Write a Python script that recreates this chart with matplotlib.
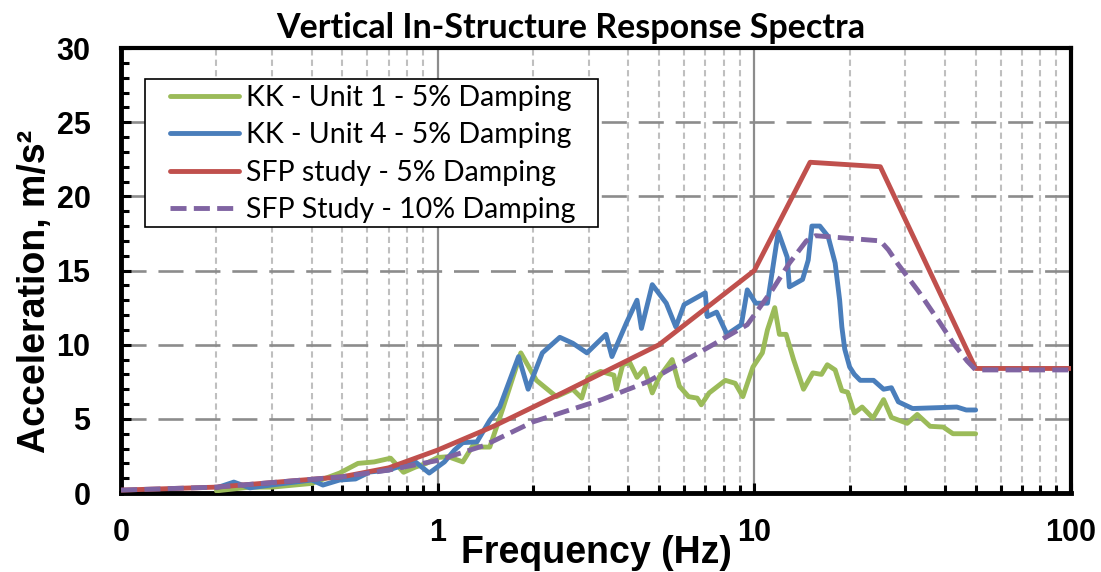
import matplotlib
matplotlib.use('Agg')
import numpy as np
import matplotlib.pyplot as plt
import matplotlib.ticker as mticker
from matplotlib.patches import Rectangle

# ── Spectra: frequency (Hz) and spectral acceleration (m/s²) ─────────

unit1_freq = [0.2, 0.255, 0.3, 0.4, 0.49, 0.56, 0.63, 0.71, 0.78, 0.85, 0.92,
              1.0, 1.08, 1.2, 1.3, 1.36, 1.46, 1.6, 1.83, 2.05, 2.37, 2.67,
              2.85, 2.98, 3.27, 3.6, 3.67, 3.84, 4.04, 4.26, 4.5, 4.76, 5.0,
              5.5, 5.8, 6.2, 6.6, 6.8, 7.2, 8.1, 8.7, 9.2, 9.9, 10.6, 11.0,
              11.6, 12.0, 12.6, 13.3, 14.3, 15.3, 16.3, 17.0, 18.0, 18.9,
              19.7, 20.7, 21.9, 23.7, 25.6, 27.1, 30.4, 32.7, 35.9, 39.5,
              42.4, 50.0]
unit1_acc = [0.15, 0.4, 0.4, 0.65, 1.35, 2.0, 2.1, 2.35, 1.4, 1.75, 2.0,
             2.4, 2.45, 2.1, 3.3, 3.1, 3.1, 5.6, 9.45, 7.6, 6.5, 7.0,
             6.4, 7.8, 8.2, 7.95, 7.0, 8.65, 8.8, 7.8, 8.4, 6.75, 7.8,
             9.0, 7.2, 6.5, 6.4, 5.95, 6.75, 7.6, 7.4, 6.5, 8.5, 9.45, 11.0,
             12.5, 10.7, 10.7, 9.0, 7.0, 8.1, 8.0, 8.65, 8.3, 6.9,
             6.8, 5.4, 5.8, 5.05, 6.3, 5.1, 4.7, 5.3, 4.5, 4.45,
             4.0, 4.0]

unit4_freq = [0.2, 0.227, 0.255, 0.3, 0.4, 0.434, 0.49, 0.55, 0.61, 0.7,
              0.78, 0.85, 0.94, 1.05, 1.13, 1.2, 1.33, 1.46, 1.57, 1.8, 1.93,
              2.14, 2.43, 2.67, 2.96, 3.4, 3.55, 3.95, 4.26, 4.4, 4.76, 5.27,
              5.65, 6.0, 7.0, 7.1, 7.6, 8.2, 9.1, 9.5, 10.1, 11.0, 11.9, 12.7,
              12.9, 14.2, 14.8, 15.2, 16.1, 17.1, 18.0, 18.6, 18.9, 19.3,
              20.0, 20.7, 21.6, 23.8, 25.6, 27.1, 28.5, 31.6, 43.6, 46.7, 50.0]
unit4_acc = [0.35, 0.74, 0.35, 0.55, 0.88, 0.54, 0.88, 0.95, 1.42, 1.55,
             1.89, 2.1, 1.35, 2.1, 2.9, 3.4, 3.45, 4.9, 5.8, 9.2, 7.0,
             9.45, 10.5, 10.1, 9.45, 10.7, 9.2, 11.5, 13.0, 11.1, 14.05, 12.8,
             11.2, 12.7, 13.5, 11.9, 12.2, 10.7, 11.35, 13.7, 12.8, 12.8, 17.6, 15.9,
             13.9, 14.4, 15.7, 18.0, 18.0, 17.3, 15.5, 13.0, 11.2, 9.7,
             8.5, 8.0, 7.6, 7.6, 7.0, 7.1, 6.15, 5.7, 5.8, 5.6, 5.6]

sfp5_freq = [0.1, 0.2, 0.5, 0.7, 1.0, 1.5, 2.5, 5.0, 10.0, 15.0, 25.0, 50.0, 100.0]
sfp5_acc = [0.2, 0.4, 1.1, 1.7, 2.9, 4.5, 6.8, 10.0, 15.0, 22.3, 22.0, 8.4, 8.4]

sfp10_freq = [0.1, 0.2, 0.5, 0.7, 1.0, 1.4, 2.0, 3.3, 4.6, 7.4, 9.5, 11.4,
              12.9, 14.6, 15.6, 25.0, 26.5, 28.5, 33.0, 38.5, 42.5, 47.0,
              50.0, 100.0]
sfp10_acc = [0.2, 0.4, 1.1, 1.55, 2.2, 3.2, 4.8, 6.3, 7.5, 10.0, 11.35, 13.7,
             15.5, 17.0, 17.35, 17.0, 16.4, 15.4, 13.6, 11.5, 10.1, 8.9,
             8.3, 8.3]

labels = ['KK - Unit 1 - 5% Damping', 'KK - Unit 4 - 5% Damping',
          'SFP study - 5% Damping', 'SFP Study - 10% Damping']

GREEN, BLUE, RED, PURPLE = '#9BBB59', '#4A7EBB', '#C0504D', '#8064A2'

# ── Plot ─────────────────────────────────────────────────────────────

fig = plt.figure(figsize=(11.01, 5.72), dpi=100)
ax = fig.add_axes([0.110, 0.138, 0.8627, 0.778])

LW = 3.5
line_kw = dict(linewidth=LW, solid_joinstyle='round', solid_capstyle='round')
ax.plot(unit1_freq, unit1_acc, color=GREEN, label=labels[0], zorder=3, **line_kw)
ax.plot(unit4_freq, unit4_acc, color=BLUE, label=labels[1], zorder=4, **line_kw)
ax.plot(sfp5_freq, sfp5_acc, color=RED, label=labels[2], zorder=5, **line_kw)
ax.plot(sfp10_freq, sfp10_acc, color=PURPLE, label=labels[3], zorder=6,
        linewidth=LW, linestyle=(0, (3.3, 1.5)))

ax.set_xscale('log')
ax.set_xlim(0.1, 100)
ax.set_ylim(0, 30)

ax.xaxis.set_major_locator(mticker.FixedLocator([0.1, 1, 10, 100]))
ax.xaxis.set_major_formatter(mticker.FixedFormatter(['0', '1', '10', '100']))
ax.xaxis.set_minor_locator(mticker.LogLocator(base=10, subs=np.arange(2, 10)))
ax.xaxis.set_minor_formatter(mticker.NullFormatter())
ax.yaxis.set_major_locator(mticker.MultipleLocator(5))
ax.yaxis.set_minor_locator(mticker.MultipleLocator(1))

# gridlines: dashed horizontal, solid decade lines, light dashed minor lines
ax.grid(True, which='major', axis='y', color='#8C8C8C', linewidth=1.9,
        linestyle=(0, (9.5, 4.5)))
ax.grid(True, which='major', axis='x', color='#8C8C8C', linewidth=1.6)
ax.grid(True, which='minor', axis='x', color='#BFBFBF', linewidth=1.5,
        linestyle=(0, (3.0, 2.0)))
ax.set_axisbelow(True)

for side in ['left', 'bottom']:
    ax.spines[side].set_linewidth(3.5)
for side in ['top', 'right']:
    ax.spines[side].set_linewidth(3.0)

tick_font = {'family': 'Liberation Sans', 'weight': 'bold', 'size': 22}
ax.tick_params(which='both', direction='in', width=2.2, colors='black')
ax.tick_params(which='major', length=7)
ax.tick_params(which='minor', length=6)
ax.tick_params(axis='y', pad=22)
ax.tick_params(axis='x', pad=18)
for lbl in ax.get_xticklabels() + ax.get_yticklabels():
    lbl.set_fontproperties(tick_font)

ax.set_xlabel('Frequency (Hz)', fontfamily='Liberation Sans', fontweight='bold', fontsize=27)
ax.set_ylabel('Acceleration, m/s²', fontfamily='Liberation Sans', fontweight='bold', fontsize=27)
ax.xaxis.set_label_coords(0.5, -0.095)
ax.yaxis.set_label_coords(-0.072, 0.454)

fig.text(0.518, 0.9336, 'Vertical In-Structure Response Spectra', ha='center',
         va='baseline', fontfamily='Lato', fontweight='bold', fontsize=24.5)

# legend entries without frame, boxed by a separate rectangle
leg = ax.legend(loc='upper left', bbox_to_anchor=(0.0516, 0.917), borderaxespad=0,
                prop={'family': 'Lato', 'size': 20.5}, frameon=False,
                handlelength=2.42, handletextpad=0.25, labelspacing=0.4,
                borderpad=0)
leg.set_zorder(10)
ax.add_patch(Rectangle((0.0253, 0.5978), 0.4768, 0.3326, transform=ax.transAxes,
                       facecolor='white', edgecolor='black', linewidth=1.2,
                       zorder=9))

fig.savefig('out.png', dpi=100)
